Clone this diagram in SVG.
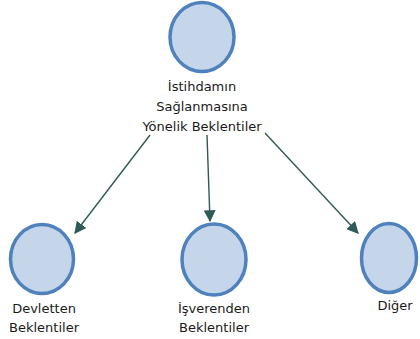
<svg xmlns="http://www.w3.org/2000/svg" width="420" height="339" viewBox="0 0 420 339">
<style>
.n{fill:#c5d5ea;stroke:#4f81bd;stroke-width:3.5}
.t{font-family:"DejaVu Sans",sans-serif;font-size:13px;fill:#1a1a1a;text-anchor:middle}
.c{stroke:#2f5b57;stroke-width:1.4;fill:none;marker-end:url(#a)}
</style>
<defs>
<marker id="a" viewBox="0 0 10 10" refX="9" refY="5" markerWidth="12" markerHeight="12" markerUnits="userSpaceOnUse" orient="auto">
<path d="M0,0 L10,5 L0,10 z" fill="#2f5b57"/>
</marker>
</defs>
<rect width="420" height="339" fill="#fff"/>
<g id="connectors">
<line class="c" x1="150" y1="135" x2="75" y2="233"/>
<line class="c" x1="207" y1="135" x2="210" y2="221"/>
<line class="c" x1="265" y1="133" x2="358" y2="233"/>
</g>
<g id="top">
<ellipse class="n" cx="202" cy="37" rx="32" ry="34.5"/>
<text class="t" x="202" y="91">İstihdamın</text>
<text class="t" x="202" y="111">Sağlanmasına</text>
<text class="t" x="202" y="131">Yönelik Beklentiler</text>
</g>
<g id="devlet">
<ellipse class="n" cx="42" cy="259" rx="31.5" ry="34.5"/>
<text class="t" x="44" y="313">Devletten</text>
<text class="t" x="44" y="332">Beklentiler</text>
</g>
<g id="isveren">
<ellipse class="n" cx="214" cy="259.5" rx="32" ry="35.5"/>
<text class="t" x="214" y="313">İşverenden</text>
<text class="t" x="214" y="332">Beklentiler</text>
</g>
<g id="diger">
<ellipse class="n" cx="389" cy="258" rx="27.5" ry="34.5"/>
<text class="t" x="395" y="310">Diğer</text>
</g>
</svg>
